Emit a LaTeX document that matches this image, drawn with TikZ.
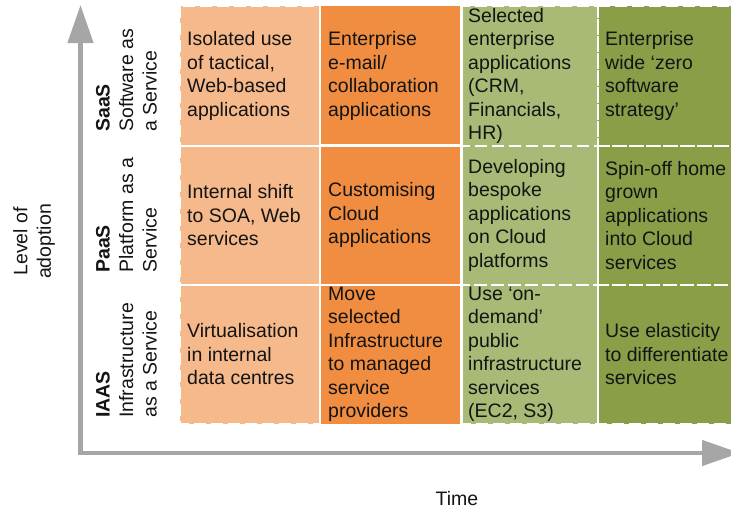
\documentclass[tikz,border=0pt]{standalone}
\usepackage{fontspec}
\setmainfont{Liberation Sans}
\usetikzlibrary{arrows.meta}
\definecolor{cA}{RGB}{246,185,139}
\definecolor{cB}{RGB}{240,141,65}
\definecolor{cC}{RGB}{168,186,117}
\definecolor{cD}{RGB}{138,158,72}
\definecolor{axisgrey}{RGB}{166,166,166}
\definecolor{txt}{RGB}{20,20,20}
\tikzset{
  celltext/.style={anchor=west, align=left, inner sep=0pt, text=txt, font=\fontsize{19.5pt}{23.5pt}\selectfont},
  rowlabel/.style={rotate=90, anchor=west, align=left, inner sep=0pt, text=txt, font=\fontsize{19.5pt}{23.5pt}\selectfont},
  axislabel/.style={align=center, inner sep=0pt, text=txt, font=\fontsize{19.5pt}{23.5pt}\selectfont},
  dashedge/.style={draw=white, line width=2pt, dash pattern=on 12pt off 5pt},
  solidedge/.style={draw=white, line width=2.5pt},
  axisline/.style={draw=axisgrey, line width=4.5pt, line join=miter, {Triangle[length=38pt,width=25pt]}-{Triangle[length=38pt,width=25pt]}},
}
\begin{document}
\begin{tikzpicture}[x=1pt,y=-1pt]
\useasboundingbox (0,0) rectangle (731,512);
% cell fills
\fill[cA] (180,6) rectangle (320,424);
\fill[cB] (320,6) rectangle (461.5,424);
\fill[cC] (461.5,6) rectangle (598,424);
\fill[cD] (598,6) rectangle (745,424);
% dashed borders
\foreach \ya/\yb in {6/145.5,145.5/285,285/424}{
  \draw[dashedge] (180,\ya) rectangle (320,\yb);
  \draw[dashedge] (461.5,\ya) rectangle (598,\yb);
  \draw[dashedge] (598,\ya) rectangle (745,\yb);
}
% solid borders
\draw[solidedge] (320,6) -- (320,424);
\draw[solidedge] (461.5,6) -- (461.5,424);
\draw[solidedge] (320,145.5) -- (461.5,145.5);
\draw[solidedge] (320,285) -- (461.5,285);
% axes
\coordinate (ytip) at (80.5,5);
\coordinate (origin) at (80.5,453);
\coordinate (xtip) at (740,453);
\draw[axisline] (ytip) -- (origin) -- (xtip);
% axis labels
\node[axislabel, rotate=90] (level) at (34,241.5) {Level of\\adoption};
\node[axislabel] (time) at (457,499) {Time};
% row labels
\node[rowlabel] (saas) at (126.5,132) {\textbf{SaaS}\\Software as\\a Service};
\node[rowlabel] (paas) at (126.5,273) {\textbf{PaaS}\\Platform as a\\Service};
\node[rowlabel] (iaas) at (126.5,418) {\textbf{IAAS}\\Infrastructure\\as a Service};
% row 1
\node[celltext] (c11) at (187,75.75) {Isolated use\\of tactical,\\Web-based\\applications};
\node[celltext] (c12) at (328,75.75) {Enterprise\\e-mail/\\collaboration\\applications};
\node[celltext] (c13) at (468,75.75) {Selected\\enterprise\\applications\\(CRM,\\Financials,\\HR)};
\node[celltext] (c14) at (605,75.75) {Enterprise\\wide ‘zero\\software\\strategy’};
% row 2
\node[celltext] (c21) at (187,215.25) {Internal shift\\to SOA, Web\\services};
\node[celltext] (c22) at (328,215.25) {Customising\\Cloud\\applications};
\node[celltext] (c23) at (468,215.25) {Developing\\bespoke\\applications\\on Cloud\\platforms};
\node[celltext] (c24) at (605,215.25) {Spin-off home\\grown\\applications\\into Cloud\\services};
% row 3
\node[celltext] (c31) at (187,354.5) {Virtualisation\\in internal\\data centres};
\node[celltext] (c32) at (328,354.5) {Move\\selected\\Infrastructure\\to managed\\service\\providers};
\node[celltext] (c33) at (468,354.5) {Use ‘on-\\demand’\\public\\infrastructure\\services\\(EC2, S3)};
\node[celltext] (c34) at (605,354.5) {Use elasticity\\to differentiate\\services};
\end{tikzpicture}
\end{document}
